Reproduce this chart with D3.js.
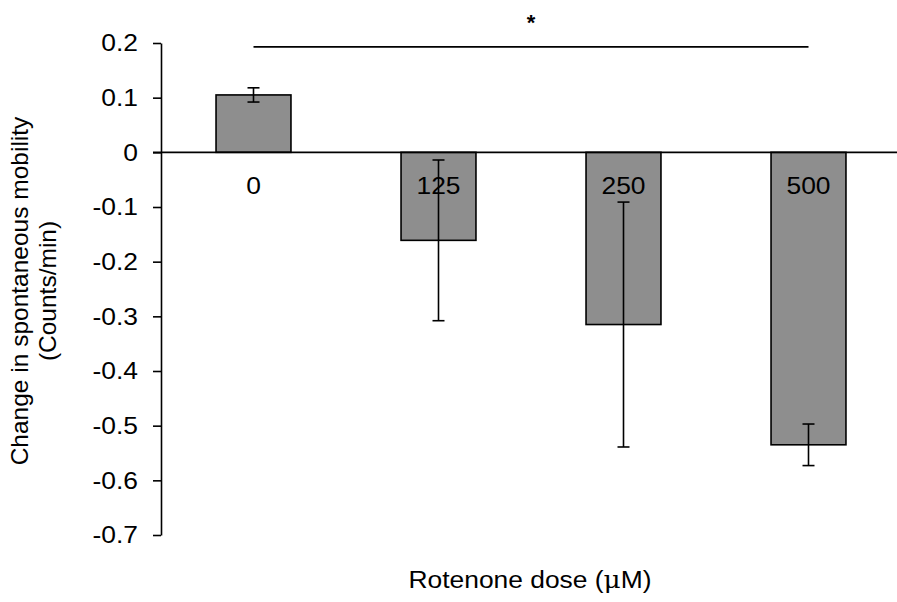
<!DOCTYPE html>
<html>
<head>
<meta charset="utf-8">
<script src="https://cdn.jsdelivr.net/npm/d3@7"></script>
<style>
  body { margin: 0; background: #fff; }
  text { font-family: "Liberation Sans", Arial, sans-serif; fill: #000; }
</style>
</head>
<body>
<svg id="chart" width="897" height="602"></svg>
<script>
// Data
const doses = ["0", "125", "250", "500"];
const means = [0.105, -0.161, -0.315, -0.535];
const errors = [0.013, 0.147, 0.224, 0.038];
const yTicks = [0.2, 0.1, 0, -0.1, -0.2, -0.3, -0.4, -0.5, -0.6, -0.7];
const sigPair = ["0", "500"];
const sigLevel = 0.193;

const svg = d3.select("#chart"),
    width = +svg.attr("width"),
    height = +svg.attr("height");

// the original figure's text is a little wider than the font
const stretch = 1.1;

const x = d3.scaleBand()
    .domain(doses)
    .range([161, 901])
    .paddingInner(0.595)
    .paddingOuter(0.2975);

const y = d3.scaleLinear()
    .domain([-0.7, 0.2])
    .range([535, 43]);

// y axis
const yAxis = d3.axisLeft(y)
    .tickValues(yTicks)
    .tickSize(8)
    .tickSizeOuter(0)
    .tickPadding(13)
    .tickFormat(d => d === 0 ? "0" : d.toFixed(1));

const gy = svg.append("g")
    .attr("transform", "translate(161,0)")
    .call(yAxis);
gy.select(".domain").attr("stroke", "#000").attr("stroke-width", 1.6);
gy.selectAll(".tick line").attr("stroke", "#000").attr("stroke-width", 1.6);
gy.selectAll(".tick text")
    .style("font-size", "24px")
    .attr("transform", `scale(${stretch},1)`);

// bars
svg.append("g")
    .selectAll("rect")
    .data(doses)
    .enter()
    .append("rect")
    .attr("x", d => x(d))
    .attr("width", x.bandwidth())
    .attr("y", (d, i) => Math.min(y(means[i]), y(0)))
    .attr("height", (d, i) => Math.abs(y(means[i]) - y(0)))
    .attr("fill", "#8e8e8e")
    .attr("stroke", "#000")
    .attr("stroke-width", 1.6);

// zero line
svg.append("line")
    .attr("x1", 153)
    .attr("x2", width)
    .attr("y1", y(0))
    .attr("y2", y(0))
    .attr("stroke", "#000")
    .attr("stroke-width", 1.6);

// category labels
svg.append("g")
    .selectAll("text")
    .data(doses)
    .enter()
    .append("text")
    .attr("transform", d => `translate(${x(d) + x.bandwidth() / 2},${y(0) + 42}) scale(${stretch},1)`)
    .attr("text-anchor", "middle")
    .style("font-size", "24px")
    .text(d => d);

// error bars
const cap = 6;
const eb = svg.append("g")
    .selectAll("g")
    .data(doses)
    .enter()
    .append("g")
    .attr("stroke", "#000")
    .attr("stroke-width", 1.6);
eb.append("line")
    .attr("x1", d => x(d) + x.bandwidth() / 2)
    .attr("x2", d => x(d) + x.bandwidth() / 2)
    .attr("y1", (d, i) => y(means[i] + errors[i]))
    .attr("y2", (d, i) => y(means[i] - errors[i]));
eb.append("line")
    .attr("x1", d => x(d) + x.bandwidth() / 2 - cap)
    .attr("x2", d => x(d) + x.bandwidth() / 2 + cap)
    .attr("y1", (d, i) => y(means[i] + errors[i]))
    .attr("y2", (d, i) => y(means[i] + errors[i]));
eb.append("line")
    .attr("x1", d => x(d) + x.bandwidth() / 2 - cap)
    .attr("x2", d => x(d) + x.bandwidth() / 2 + cap)
    .attr("y1", (d, i) => y(means[i] - errors[i]))
    .attr("y2", (d, i) => y(means[i] - errors[i]));

// significance bar
const sx1 = x(sigPair[0]) + x.bandwidth() / 2,
    sx2 = x(sigPair[1]) + x.bandwidth() / 2;
svg.append("line")
    .attr("x1", sx1)
    .attr("x2", sx2)
    .attr("y1", y(sigLevel))
    .attr("y2", y(sigLevel))
    .attr("stroke", "#000")
    .attr("stroke-width", 1.6);
svg.append("text")
    .attr("x", (sx1 + sx2) / 2)
    .attr("y", 30)
    .attr("text-anchor", "middle")
    .style("font-size", "22px")
    .style("font-weight", "bold")
    .text("*");

// x title
const xt = svg.append("text")
    .attr("transform", `translate(530,588) scale(${stretch},1)`)
    .attr("text-anchor", "middle")
    .style("font-size", "24px");
xt.append("tspan").text("Rotenone dose (");
xt.append("tspan").style("font-family", "'DejaVu Serif', serif").text("\u03bc");
xt.append("tspan").text("M)");

// y title
const yt = svg.append("g")
    .attr("transform", "translate(0,291) rotate(-90)");
yt.append("text")
    .attr("x", 0)
    .attr("y", 28)
    .attr("text-anchor", "middle")
    .style("font-size", "24.5px")
    .text("Change in spontaneous mobility");
yt.append("text")
    .attr("x", 0)
    .attr("y", 56)
    .attr("text-anchor", "middle")
    .style("font-size", "24.5px")
    .text("(Counts/min)");
</script>
</body>
</html>
